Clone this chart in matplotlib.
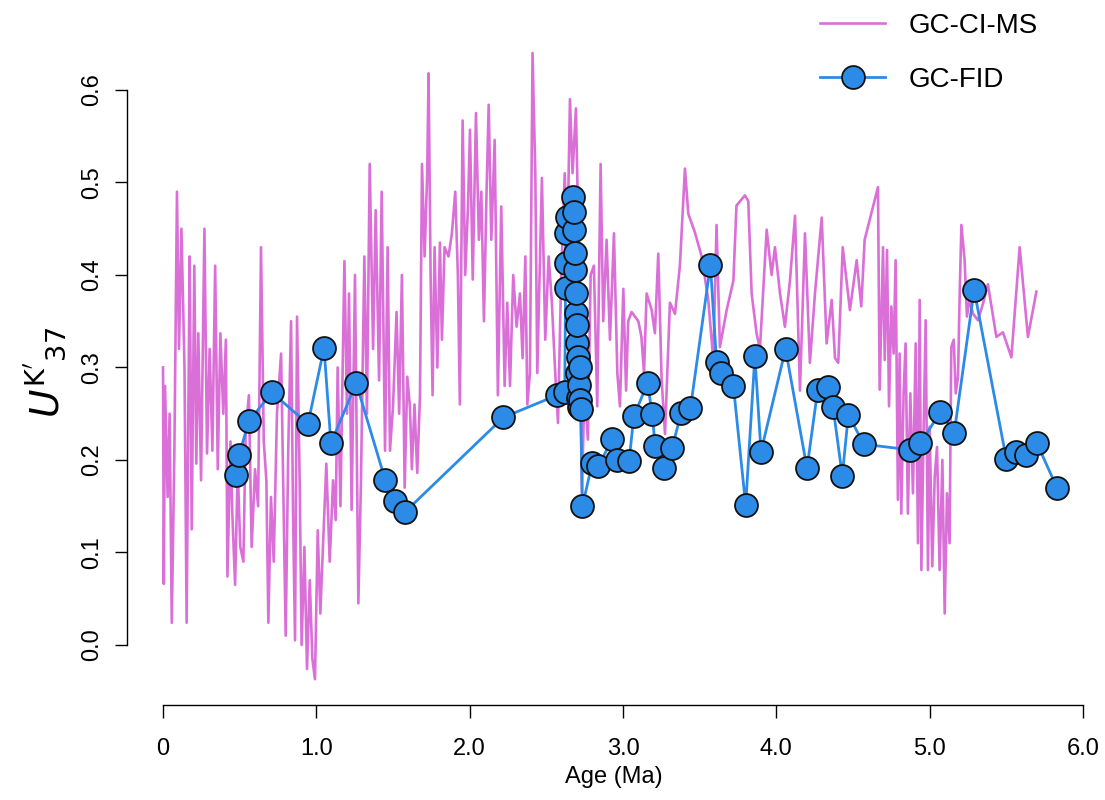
import numpy as np
import matplotlib.pyplot as plt

# GC-CI-MS record (age in Ma, UK'37)
ms_age = [0.0, 0.005, 0.013, 0.03, 0.043, 0.057, 0.074, 0.091, 0.104, 0.12,
          0.14, 0.154, 0.165, 0.174, 0.187, 0.204, 0.217, 0.23, 0.248, 0.27,
          0.287, 0.304, 0.322, 0.34, 0.357, 0.374, 0.393, 0.41, 0.42, 0.44,
          0.452, 0.47, 0.487, 0.504, 0.524, 0.539, 0.56, 0.578, 0.6, 0.62,
          0.639, 0.657, 0.674, 0.687, 0.704, 0.722, 0.743, 0.77, 0.787, 0.80,
          0.817, 0.835, 0.848, 0.861, 0.874, 0.891, 0.904, 0.922, 0.939, 0.957,
          0.974, 0.991, 1.009, 1.026, 1.043, 1.065, 1.087, 1.109, 1.126, 1.139,
          1.157, 1.183, 1.2, 1.213, 1.23, 1.252, 1.274, 1.291, 1.313, 1.33,
          1.348, 1.37, 1.387, 1.409, 1.426, 1.448, 1.465, 1.48,
          1.50, 1.523, 1.54, 1.558, 1.576, 1.593, 1.61, 1.623, 1.64, 1.658,
          1.676, 1.689, 1.706, 1.723, 1.732, 1.745, 1.758, 1.771, 1.789, 1.806,
          1.819, 1.836, 1.862, 1.884, 1.906, 1.923, 1.936, 1.954, 1.971, 1.989,
          2.002, 2.02, 2.041, 2.06, 2.076, 2.093, 2.11, 2.124, 2.141, 2.163,
          2.184, 2.206, 2.228, 2.245, 2.263, 2.284, 2.306, 2.328, 2.345, 2.363,
          2.376, 2.393, 2.41, 2.428, 2.441, 2.471, 2.493, 2.515, 2.536, 2.558,
          2.576, 2.597, 2.62, 2.636, 2.654, 2.671, 2.693, 2.71, 2.732, 2.749,
          2.771, 2.789, 2.81, 2.832, 2.854, 2.871, 2.893, 2.915, 2.941, 2.963,
          2.98, 3.002, 3.02,
          3.034, 3.056, 3.10, 3.12, 3.137, 3.154, 3.187, 3.208, 3.23, 3.252,
          3.274, 3.306, 3.339, 3.371, 3.404, 3.426, 3.469, 3.513, 3.556, 3.589,
          3.61, 3.632, 3.676, 3.72, 3.74, 3.795, 3.817, 3.839, 3.871, 3.893,
          3.937, 3.969, 3.991, 4.024, 4.056, 4.089, 4.122, 4.154, 4.187, 4.219,
          4.252, 4.296, 4.328, 4.361, 4.383, 4.404, 4.433, 4.48, 4.524,
          4.554, 4.576, 4.663, 4.674, 4.696, 4.707, 4.722, 4.735, 4.75, 4.765,
          4.778, 4.793, 4.804, 4.815, 4.83, 4.843, 4.858, 4.874, 4.891, 4.909,
          4.924, 4.935, 4.946, 4.961, 4.974, 4.989, 5.0, 5.017, 5.033, 5.048,
          5.065, 5.083, 5.098, 5.113, 5.13, 5.141, 5.157, 5.17, 5.185, 5.196,
          5.207, 5.228, 5.243, 5.26, 5.283, 5.315, 5.348, 5.38, 5.435, 5.478,
          5.533, 5.587, 5.641, 5.696]
ms_uk = [0.30, 0.066, 0.28, 0.16, 0.25, 0.024, 0.21, 0.49, 0.32, 0.45,
         0.30, 0.024, 0.25, 0.42, 0.125, 0.41, 0.196, 0.337, 0.178, 0.45,
         0.207, 0.32, 0.21, 0.41, 0.19, 0.337, 0.25, 0.33, 0.074, 0.22,
         0.142, 0.065, 0.19, 0.106, 0.09, 0.23, 0.27, 0.106, 0.19, 0.15,
         0.43, 0.22, 0.178, 0.024, 0.16, 0.09, 0.25, 0.315, 0.142, 0.01,
         0.214, 0.35, 0.142, 0.005, 0.355, 0.178, 0.0, 0.106, -0.026, 0.07,
         -0.015, -0.037, 0.124, 0.034, 0.106, 0.196, 0.09, 0.178, 0.135, 0.30,
         0.15, 0.415, 0.25, 0.38, 0.146, 0.40, 0.045, 0.178, 0.42, 0.25,
         0.52, 0.32, 0.47, 0.286, 0.49, 0.21, 0.43, 0.21,
         0.258, 0.36, 0.25, 0.40, 0.17, 0.29, 0.258, 0.19, 0.26, 0.186,
         0.27, 0.52, 0.42, 0.51, 0.618, 0.40, 0.27, 0.43, 0.30, 0.435,
         0.33, 0.43, 0.42, 0.445, 0.49, 0.40, 0.26, 0.567, 0.40, 0.474,
         0.557, 0.395, 0.575, 0.438, 0.49, 0.35, 0.49, 0.584, 0.438, 0.546,
         0.27, 0.474, 0.28, 0.37, 0.28, 0.40, 0.344, 0.38, 0.31, 0.42,
         0.26, 0.294, 0.64, 0.51, 0.294, 0.505, 0.33, 0.42, 0.37, 0.294,
         0.24, 0.40, 0.51, 0.42, 0.59, 0.51, 0.58, 0.438, 0.165, 0.28,
         0.222, 0.40, 0.41, 0.258, 0.52, 0.35, 0.438, 0.33, 0.445, 0.294,
         0.258, 0.385, 0.275,
         0.35, 0.36, 0.35, 0.333, 0.294, 0.38, 0.362, 0.337, 0.423, 0.286,
         0.228, 0.37, 0.358, 0.41, 0.515, 0.466, 0.446, 0.42, 0.373, 0.308,
         0.454, 0.322, 0.362, 0.394, 0.475, 0.486, 0.48, 0.38, 0.337, 0.32,
         0.449, 0.40, 0.43, 0.38, 0.344, 0.394, 0.464, 0.275, 0.445, 0.305,
         0.38, 0.462, 0.326, 0.373, 0.31, 0.305, 0.43, 0.362, 0.416,
         0.366, 0.438, 0.495, 0.276, 0.43, 0.308, 0.427, 0.258, 0.366, 0.315,
         0.416, 0.157, 0.315, 0.142, 0.272, 0.326, 0.142, 0.272, 0.164, 0.326,
         0.11, 0.373, 0.081, 0.236, 0.351, 0.081, 0.236, 0.085, 0.182, 0.214,
         0.081, 0.2, 0.034, 0.164, 0.11, 0.322, 0.33, 0.272, 0.29, 0.38,
         0.454, 0.416, 0.355, 0.373, 0.358, 0.351, 0.369, 0.39, 0.333, 0.338,
         0.311, 0.43, 0.333, 0.382]

# GC-FID record
fid_age = [0.476, 0.495, 0.56, 0.71, 0.945, 1.05, 1.095, 1.26, 1.45, 1.51,
           1.58, 2.22, 2.57, 2.62,
           2.625, 2.628, 2.631, 2.634,
           2.676, 2.679, 2.682, 2.685, 2.688, 2.691, 2.694, 2.697, 2.700,
           2.703, 2.706, 2.709, 2.712, 2.715, 2.718, 2.721, 2.724,
           2.735, 2.80, 2.84, 2.93, 2.96, 3.04, 3.07, 3.16, 3.19, 3.21,
           3.27, 3.32, 3.38, 3.44, 3.57, 3.61, 3.64, 3.72, 3.80, 3.86,
           3.90, 4.06, 4.20, 4.27, 4.34, 4.37, 4.43, 4.47, 4.57, 4.87,
           4.94, 5.07, 5.16, 5.29, 5.50, 5.56, 5.63, 5.70, 5.83]
fid_uk = [0.184, 0.205, 0.242, 0.273, 0.239, 0.321, 0.218, 0.283, 0.178, 0.156,
          0.144, 0.246, 0.270, 0.274,
          0.386, 0.445, 0.413, 0.463,
          0.484, 0.449, 0.468, 0.405, 0.424, 0.359, 0.381, 0.326, 0.346,
          0.294, 0.311, 0.267, 0.281, 0.257, 0.265, 0.300, 0.255,
          0.150, 0.197, 0.193, 0.223, 0.200, 0.199, 0.247, 0.283, 0.250, 0.215,
          0.191, 0.213, 0.251, 0.256, 0.411, 0.306, 0.294, 0.280, 0.151, 0.312,
          0.209, 0.320, 0.191, 0.276, 0.279, 0.257, 0.183, 0.249, 0.217, 0.211,
          0.218, 0.252, 0.229, 0.384, 0.201, 0.209, 0.205, 0.218, 0.170]

xticks = [0, 1, 2, 3, 4, 5, 6]
xlabels = ['0', '1.0', '2.0', '3.0', '4.0', '5.0', '6.0']
yticks = [0.0, 0.1, 0.2, 0.3, 0.4, 0.5, 0.6]
ylabels = ['0.0', '0.1', '0.2', '0.3', '0.4', '0.5', '0.6']

plt.rcParams['font.family'] = ['Liberation Sans', 'DejaVu Sans']

fig = plt.figure(figsize=(11.05, 8), dpi=100)
ax = fig.add_axes([127 / 1105, 95 / 800, 973 / 1105, 665 / 800])

ax.plot(ms_age, ms_uk, color='#da6fd8', lw=1.9, label='GC-CI-MS')
ax.plot(fid_age, fid_uk, '-o', color='#2b8be6', lw=2.0, ms=16.5,
        mfc='#2b8be6', mec='#111111', mew=1.3, label='GC-FID')

ax.set_xlim(-0.235, 6.111)
ax.set_ylim(-0.0649, 0.654)

for s in ['top', 'right']:
    ax.spines[s].set_visible(False)
ax.spines['left'].set_bounds(0, 0.6)
ax.spines['bottom'].set_bounds(0, 6)
ax.spines['left'].set_linewidth(1.0)
ax.spines['bottom'].set_linewidth(1.0)

ax.set_xticks(xticks)
ax.set_xticklabels(xlabels)
ax.set_yticks(yticks)
ax.set_yticklabels(ylabels, rotation=90, va='center')
ax.tick_params(length=9, width=1.0, labelsize=17)
ax.tick_params(axis='x', pad=15)
ax.tick_params(axis='y', pad=8)

ax.set_xlabel('Age (Ma)', fontsize=17, labelpad=4)
ax.set_ylabel(r"$U^{\mathrm{K'}}{}_{\mathrm{37}}$", fontsize=28, labelpad=10)

ax.legend(loc='upper left', bbox_to_anchor=(820 / 1105, 1 - 13 / 800),
          bbox_transform=fig.transFigure, frameon=False, fontsize=20,
          handlelength=2.35, handletextpad=0.85, labelspacing=1.0,
          borderpad=0, borderaxespad=0)

fig.savefig('out.png', dpi=100)
